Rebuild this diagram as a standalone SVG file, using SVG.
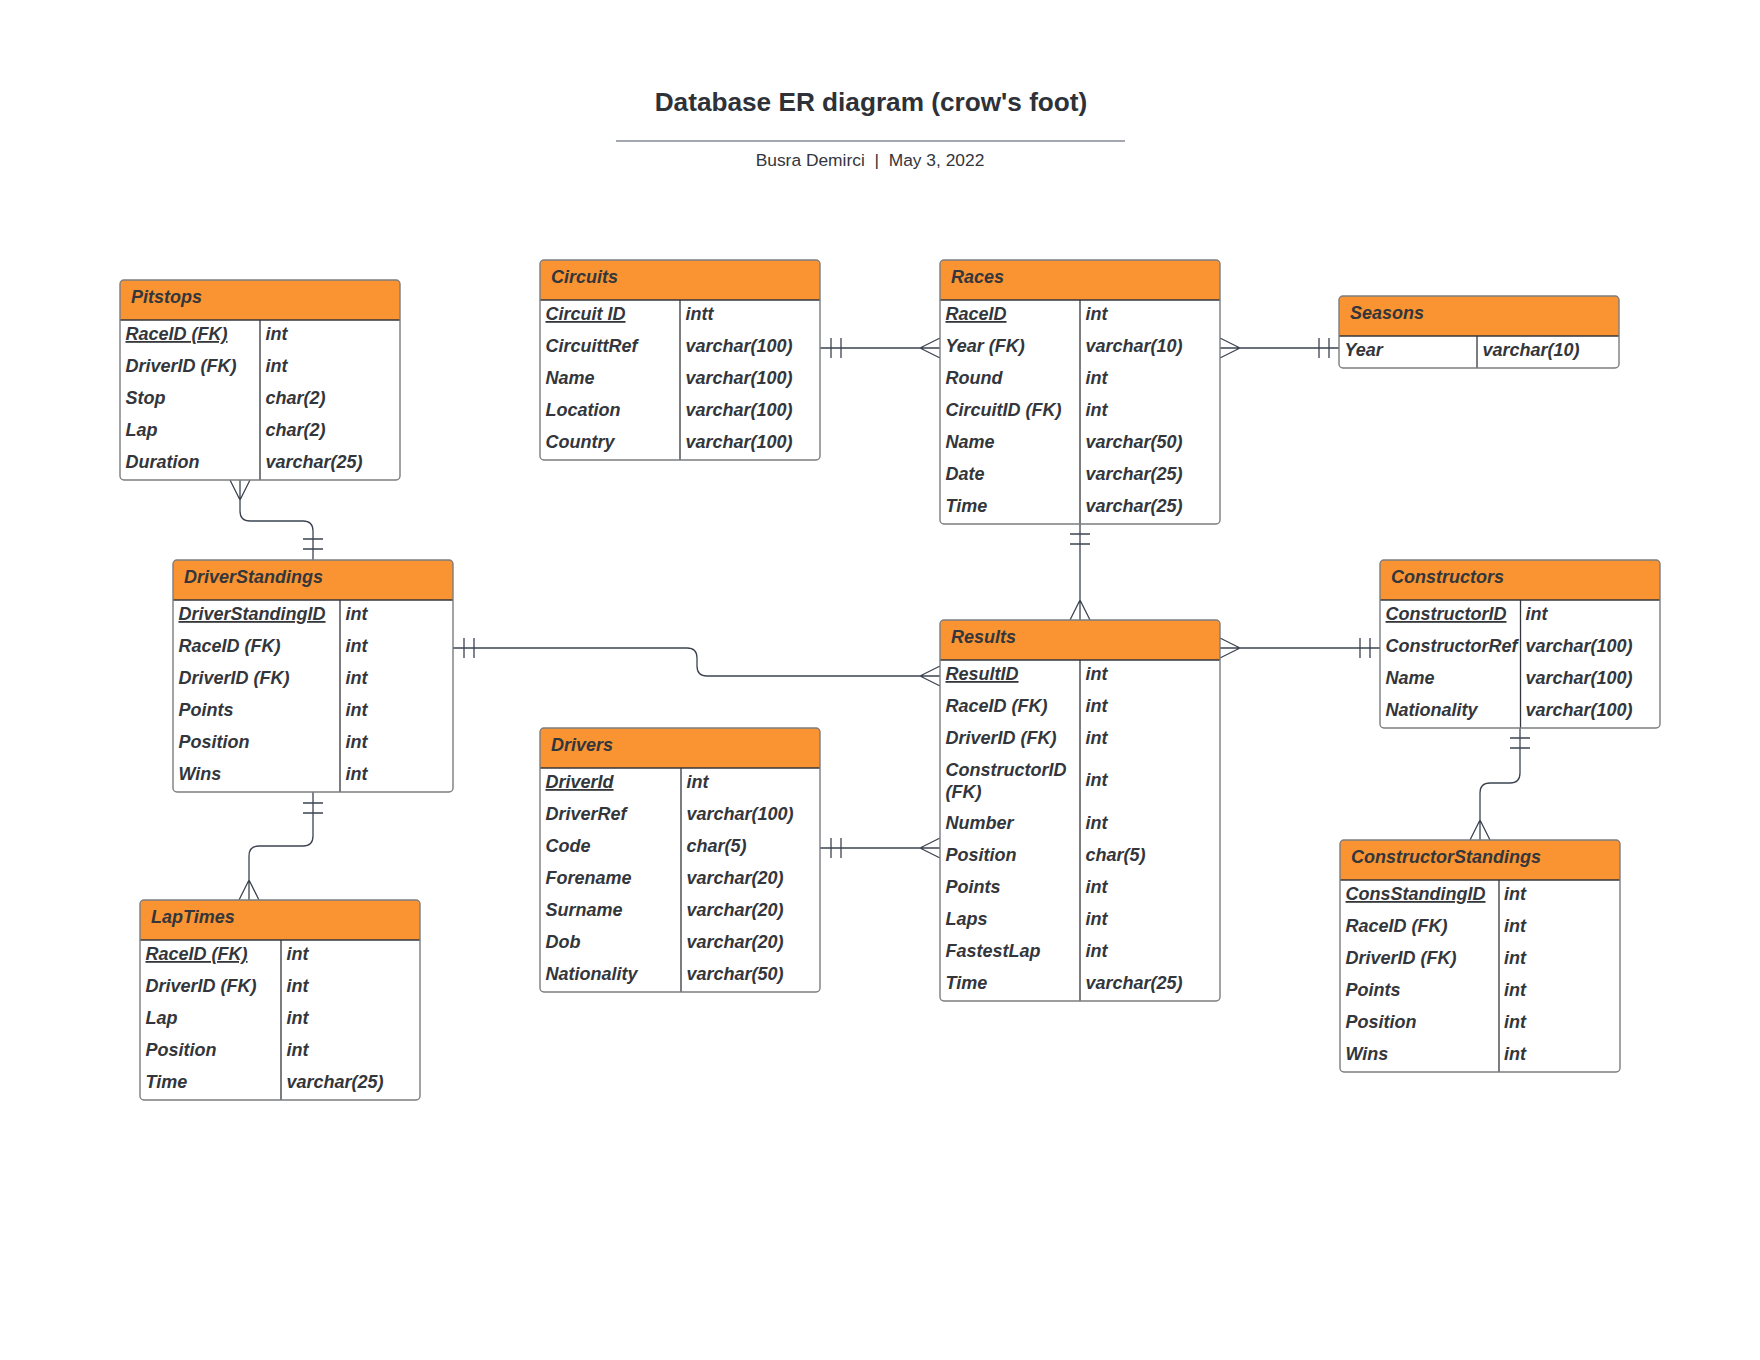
<svg xmlns="http://www.w3.org/2000/svg" width="1760" height="1360" viewBox="0 0 1760 1360">
<defs>
<style>
.bg{fill:#ffffff}
.box{fill:#ffffff;stroke:none}
.out{fill:none;stroke:#7b7d80;stroke-width:1.4}
.hdr{fill:#fa9433}
.sep{stroke:#33363b;stroke-width:1.3}
.h{font-family:"Liberation Sans",Arial,sans-serif;font-size:18px;font-weight:bold;font-style:italic;fill:#33363b}
.t{font-family:"Liberation Sans",Arial,sans-serif;font-size:18px;font-weight:bold;font-style:italic;fill:#33363b}
.pk{text-decoration:underline}
.title{font-family:"Liberation Sans",Arial,sans-serif;font-size:26.2px;font-weight:bold;fill:#2e3238}
.sub{font-family:"Liberation Sans",Arial,sans-serif;font-size:17.4px;fill:#33363b}
.c{fill:none;stroke:#3d4450;stroke-width:1.3}
</style>
</defs>
<rect class="bg" x="0" y="0" width="1760" height="1360"/>

<g id="header">
<text class="title" x="871" y="111" text-anchor="middle">Database ER diagram (crow's foot)</text>
<line x1="616" y1="141" x2="1125" y2="141" stroke="#a3a7b0" stroke-width="2"/>
<text class="sub" x="870" y="166" text-anchor="middle" xml:space="preserve">Busra Demirci  |  May 3, 2022</text>
</g>

<g id="connectors">
<!-- Circuits - Races -->
<path class="c" d="M820,348 H940 M831,338 V358 M841,338 V358 M920,348 L940,338 M920,348 L940,358"/>
<!-- Races - Seasons -->
<path class="c" d="M1220,348 H1339 M1240,348 L1220,338 M1240,348 L1220,358 M1319,338 V358 M1329,338 V358"/>
<!-- Races - Results -->
<path class="c" d="M1080,524 V620 M1070,534 H1090 M1070,544 H1090 M1080,600 L1070,620 M1080,600 L1090,620"/>
<!-- DriverStandings - Results -->
<path class="c" d="M453,648 H687 Q697,648 697,658 V666 Q697,676 707,676 H940 M464,638 V658 M474,638 V658 M920,676 L940,666 M920,676 L940,686"/>
<!-- Drivers - Results -->
<path class="c" d="M820,848 H940 M831,838 V858 M841,838 V858 M920,848 L940,838 M920,848 L940,858"/>
<!-- Results - Constructors -->
<path class="c" d="M1220,648 H1380 M1240,648 L1220,638 M1240,648 L1220,658 M1360,638 V658 M1370,638 V658"/>
<!-- Constructors - ConstructorStandings -->
<path class="c" d="M1520,728 V773 Q1520,783 1510,783 H1490 Q1480,783 1480,793 V840 M1510,738 H1530 M1510,748 H1530 M1480,820 L1470,840 M1480,820 L1490,840"/>
<!-- Pitstops - DriverStandings -->
<path class="c" d="M240,480 V511 Q240,521 250,521 H303 Q313,521 313,531 V560 M240,500 L230,480 M240,500 L250,480 M303,539 H323 M303,549 H323"/>
<!-- DriverStandings - LapTimes -->
<path class="c" d="M313,792 V836 Q313,846 303,846 H259 Q249,846 249,856 V900 M303,803 H323 M303,813 H323 M249,880 L239,900 M249,880 L259,900"/>
</g>

<g id="pitstops" transform="translate(120,280)">
<rect class="box" x="0" y="0" width="280" height="200" rx="4"/>
<path class="hdr" d="M0,40 V4 Q0,0 4,0 H276 Q280,0 280,4 V40 Z"/>
<line class="sep" x1="0" y1="40" x2="280" y2="40"/>
<line class="sep" x1="140" y1="40" x2="140" y2="200"/>
<rect class="out" x="0" y="0" width="280" height="200" rx="4"/>
<text class="h" x="11" y="23">Pitstops</text>
<text class="t pk" x="5.5" y="60">RaceID (FK)</text><text class="t" x="145.5" y="60">int</text>
<text class="t" x="5.5" y="92">DriverID (FK)</text><text class="t" x="145.5" y="92">int</text>
<text class="t" x="5.5" y="124">Stop</text><text class="t" x="145.5" y="124">char(2)</text>
<text class="t" x="5.5" y="156">Lap</text><text class="t" x="145.5" y="156">char(2)</text>
<text class="t" x="5.5" y="188">Duration</text><text class="t" x="145.5" y="188">varchar(25)</text>
</g>

<g id="circuits" transform="translate(540,260)">
<rect class="box" x="0" y="0" width="280" height="200" rx="4"/>
<path class="hdr" d="M0,40 V4 Q0,0 4,0 H276 Q280,0 280,4 V40 Z"/>
<line class="sep" x1="0" y1="40" x2="280" y2="40"/>
<line class="sep" x1="140" y1="40" x2="140" y2="200"/>
<rect class="out" x="0" y="0" width="280" height="200" rx="4"/>
<text class="h" x="11" y="23">Circuits</text>
<text class="t pk" x="5.5" y="60">Circuit ID</text><text class="t" x="145.5" y="60">intt</text>
<text class="t" x="5.5" y="92">CircuittRef</text><text class="t" x="145.5" y="92">varchar(100)</text>
<text class="t" x="5.5" y="124">Name</text><text class="t" x="145.5" y="124">varchar(100)</text>
<text class="t" x="5.5" y="156">Location</text><text class="t" x="145.5" y="156">varchar(100)</text>
<text class="t" x="5.5" y="188">Country</text><text class="t" x="145.5" y="188">varchar(100)</text>
</g>

<g id="races" transform="translate(940,260)">
<rect class="box" x="0" y="0" width="280" height="264" rx="4"/>
<path class="hdr" d="M0,40 V4 Q0,0 4,0 H276 Q280,0 280,4 V40 Z"/>
<line class="sep" x1="0" y1="40" x2="280" y2="40"/>
<line class="sep" x1="140" y1="40" x2="140" y2="264"/>
<rect class="out" x="0" y="0" width="280" height="264" rx="4"/>
<text class="h" x="11" y="23">Races</text>
<text class="t pk" x="5.5" y="60">RaceID</text><text class="t" x="145.5" y="60">int</text>
<text class="t" x="5.5" y="92">Year (FK)</text><text class="t" x="145.5" y="92">varchar(10)</text>
<text class="t" x="5.5" y="124">Round</text><text class="t" x="145.5" y="124">int</text>
<text class="t" x="5.5" y="156">CircuitID (FK)</text><text class="t" x="145.5" y="156">int</text>
<text class="t" x="5.5" y="188">Name</text><text class="t" x="145.5" y="188">varchar(50)</text>
<text class="t" x="5.5" y="220">Date</text><text class="t" x="145.5" y="220">varchar(25)</text>
<text class="t" x="5.5" y="252">Time</text><text class="t" x="145.5" y="252">varchar(25)</text>
</g>

<g id="seasons" transform="translate(1339,296)">
<rect class="box" x="0" y="0" width="280" height="72" rx="4"/>
<path class="hdr" d="M0,40 V4 Q0,0 4,0 H276 Q280,0 280,4 V40 Z"/>
<line class="sep" x1="0" y1="40" x2="280" y2="40"/>
<line class="sep" x1="138" y1="40" x2="138" y2="72"/>
<rect class="out" x="0" y="0" width="280" height="72" rx="4"/>
<text class="h" x="11" y="23">Seasons</text>
<text class="t" x="5.5" y="60">Year</text><text class="t" x="143.5" y="60">varchar(10)</text>
</g>

<g id="driverstandings" transform="translate(173,560)">
<rect class="box" x="0" y="0" width="280" height="232" rx="4"/>
<path class="hdr" d="M0,40 V4 Q0,0 4,0 H276 Q280,0 280,4 V40 Z"/>
<line class="sep" x1="0" y1="40" x2="280" y2="40"/>
<line class="sep" x1="167" y1="40" x2="167" y2="232"/>
<rect class="out" x="0" y="0" width="280" height="232" rx="4"/>
<text class="h" x="11" y="23">DriverStandings</text>
<text class="t pk" x="5.5" y="60">DriverStandingID</text><text class="t" x="172.5" y="60">int</text>
<text class="t" x="5.5" y="92">RaceID (FK)</text><text class="t" x="172.5" y="92">int</text>
<text class="t" x="5.5" y="124">DriverID (FK)</text><text class="t" x="172.5" y="124">int</text>
<text class="t" x="5.5" y="156">Points</text><text class="t" x="172.5" y="156">int</text>
<text class="t" x="5.5" y="188">Position</text><text class="t" x="172.5" y="188">int</text>
<text class="t" x="5.5" y="220">Wins</text><text class="t" x="172.5" y="220">int</text>
</g>

<g id="laptimes" transform="translate(140,900)">
<rect class="box" x="0" y="0" width="280" height="200" rx="4"/>
<path class="hdr" d="M0,40 V4 Q0,0 4,0 H276 Q280,0 280,4 V40 Z"/>
<line class="sep" x1="0" y1="40" x2="280" y2="40"/>
<line class="sep" x1="141" y1="40" x2="141" y2="200"/>
<rect class="out" x="0" y="0" width="280" height="200" rx="4"/>
<text class="h" x="11" y="23">LapTimes</text>
<text class="t pk" x="5.5" y="60">RaceID (FK)</text><text class="t" x="146.5" y="60">int</text>
<text class="t" x="5.5" y="92">DriverID (FK)</text><text class="t" x="146.5" y="92">int</text>
<text class="t" x="5.5" y="124">Lap</text><text class="t" x="146.5" y="124">int</text>
<text class="t" x="5.5" y="156">Position</text><text class="t" x="146.5" y="156">int</text>
<text class="t" x="5.5" y="188">Time</text><text class="t" x="146.5" y="188">varchar(25)</text>
</g>

<g id="drivers" transform="translate(540,728)">
<rect class="box" x="0" y="0" width="280" height="264" rx="4"/>
<path class="hdr" d="M0,40 V4 Q0,0 4,0 H276 Q280,0 280,4 V40 Z"/>
<line class="sep" x1="0" y1="40" x2="280" y2="40"/>
<line class="sep" x1="141" y1="40" x2="141" y2="264"/>
<rect class="out" x="0" y="0" width="280" height="264" rx="4"/>
<text class="h" x="11" y="23">Drivers</text>
<text class="t pk" x="5.5" y="60">DriverId</text><text class="t" x="146.5" y="60">int</text>
<text class="t" x="5.5" y="92">DriverRef</text><text class="t" x="146.5" y="92">varchar(100)</text>
<text class="t" x="5.5" y="124">Code</text><text class="t" x="146.5" y="124">char(5)</text>
<text class="t" x="5.5" y="156">Forename</text><text class="t" x="146.5" y="156">varchar(20)</text>
<text class="t" x="5.5" y="188">Surname</text><text class="t" x="146.5" y="188">varchar(20)</text>
<text class="t" x="5.5" y="220">Dob</text><text class="t" x="146.5" y="220">varchar(20)</text>
<text class="t" x="5.5" y="252">Nationality</text><text class="t" x="146.5" y="252">varchar(50)</text>
</g>

<g id="results" transform="translate(940,620)">
<rect class="box" x="0" y="0" width="280" height="381" rx="4"/>
<path class="hdr" d="M0,40 V4 Q0,0 4,0 H276 Q280,0 280,4 V40 Z"/>
<line class="sep" x1="0" y1="40" x2="280" y2="40"/>
<line class="sep" x1="140" y1="40" x2="140" y2="381"/>
<rect class="out" x="0" y="0" width="280" height="381" rx="4"/>
<text class="h" x="11" y="23">Results</text>
<text class="t pk" x="5.5" y="60">ResultID</text><text class="t" x="145.5" y="60">int</text>
<text class="t" x="5.5" y="92">RaceID (FK)</text><text class="t" x="145.5" y="92">int</text>
<text class="t" x="5.5" y="124">DriverID (FK)</text><text class="t" x="145.5" y="124">int</text>
<text class="t" x="5.5" y="156">ConstructorID</text><text class="t" x="5.5" y="177.5">(FK)</text><text class="t" x="145.5" y="166">int</text>
<text class="t" x="5.5" y="209">Number</text><text class="t" x="145.5" y="209">int</text>
<text class="t" x="5.5" y="241">Position</text><text class="t" x="145.5" y="241">char(5)</text>
<text class="t" x="5.5" y="273">Points</text><text class="t" x="145.5" y="273">int</text>
<text class="t" x="5.5" y="305">Laps</text><text class="t" x="145.5" y="305">int</text>
<text class="t" x="5.5" y="337">FastestLap</text><text class="t" x="145.5" y="337">int</text>
<text class="t" x="5.5" y="369">Time</text><text class="t" x="145.5" y="369">varchar(25)</text>
</g>

<g id="constructors" transform="translate(1380,560)">
<rect class="box" x="0" y="0" width="280" height="168" rx="4"/>
<path class="hdr" d="M0,40 V4 Q0,0 4,0 H276 Q280,0 280,4 V40 Z"/>
<line class="sep" x1="0" y1="40" x2="280" y2="40"/>
<line class="sep" x1="140.5" y1="40" x2="140.5" y2="168"/>
<rect class="out" x="0" y="0" width="280" height="168" rx="4"/>
<text class="h" x="11" y="23">Constructors</text>
<text class="t pk" x="5.5" y="60">ConstructorID</text><text class="t" x="145.5" y="60">int</text>
<text class="t" x="5.5" y="92">ConstructorRef</text><text class="t" x="145.5" y="92">varchar(100)</text>
<text class="t" x="5.5" y="124">Name</text><text class="t" x="145.5" y="124">varchar(100)</text>
<text class="t" x="5.5" y="156">Nationality</text><text class="t" x="145.5" y="156">varchar(100)</text>
</g>

<g id="constructorstandings" transform="translate(1340,840)">
<rect class="box" x="0" y="0" width="280" height="232" rx="4"/>
<path class="hdr" d="M0,40 V4 Q0,0 4,0 H276 Q280,0 280,4 V40 Z"/>
<line class="sep" x1="0" y1="40" x2="280" y2="40"/>
<line class="sep" x1="159" y1="40" x2="159" y2="232"/>
<rect class="out" x="0" y="0" width="280" height="232" rx="4"/>
<text class="h" x="11" y="23">ConstructorStandings</text>
<text class="t pk" x="5.5" y="60">ConsStandingID</text><text class="t" x="164" y="60">int</text>
<text class="t" x="5.5" y="92">RaceID (FK)</text><text class="t" x="164" y="92">int</text>
<text class="t" x="5.5" y="124">DriverID (FK)</text><text class="t" x="164" y="124">int</text>
<text class="t" x="5.5" y="156">Points</text><text class="t" x="164" y="156">int</text>
<text class="t" x="5.5" y="188">Position</text><text class="t" x="164" y="188">int</text>
<text class="t" x="5.5" y="220">Wins</text><text class="t" x="164" y="220">int</text>
</g>
</svg>
